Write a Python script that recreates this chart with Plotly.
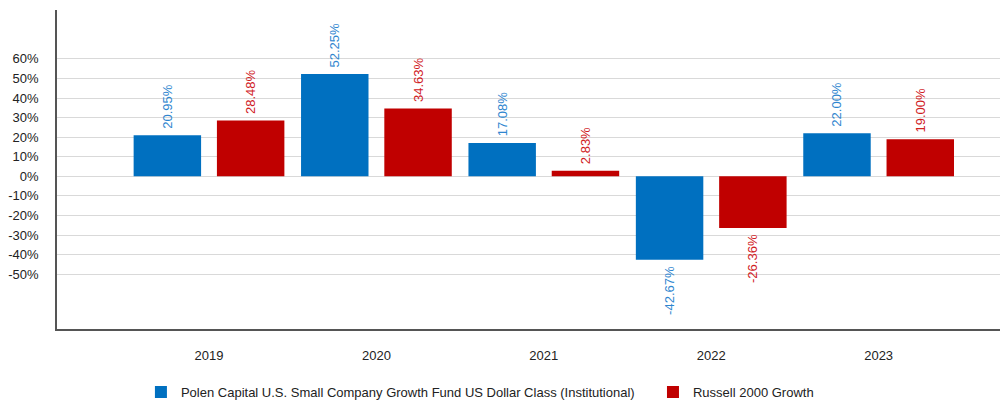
import plotly.graph_objects as go

years = ["2019", "2020", "2021", "2022", "2023"]
polen = [20.95, 52.25, 17.08, -42.67, 22.00]
russell = [28.48, 34.63, 2.83, -26.36, 19.00]
tick_vals = [60, 50, 40, 30, 20, 10, 0, -10, -20, -30, -40, -50]
tick_text = [f"{v}%" for v in tick_vals]

name_a = "Polen Capital U.S. Small Company Growth Fund US Dollar Class (Institutional)"
name_b = "Russell 2000 Growth"

NB = "\u00a0"


def label(v):
    s = f"{v:.2f}%"
    return (NB + s) if v >= 0 else (s + NB)


fig = go.Figure()
fig.add_trace(go.Bar(
    x=years, y=polen, name=name_a, legend="legend",
    marker=dict(color="#0070C0", line=dict(width=0)),
    text=[label(v) for v in polen], textposition="outside", textangle=-90,
    textfont=dict(color="#2F86CF", size=13, family="Liberation Sans, Arial"),
    cliponaxis=False, constraintext="none", hoverinfo="skip",
))
fig.add_trace(go.Bar(
    x=years, y=russell, name=name_b, legend="legend2",
    marker=dict(color="#C00000", line=dict(width=0)),
    text=[label(v) for v in russell], textposition="outside", textangle=-90,
    textfont=dict(color="#D0201E", size=13, family="Liberation Sans, Arial"),
    cliponaxis=False, constraintext="none", hoverinfo="skip",
))

leg_common = dict(orientation="h", xanchor="left", y=-0.198, yanchor="middle",
                  font=dict(size=13, color="#222"), itemwidth=30)

fig.update_layout(
    width=1002, height=400,
    margin=dict(l=57, r=2, t=10, b=71, autoexpand=False),
    paper_bgcolor="white", plot_bgcolor="white",
    barmode="group", bargap=0.005, bargroupgap=0.19,
    font=dict(family="Liberation Sans, Arial", size=13, color="#222"),
    showlegend=True,
    legend=dict(x=0.089, **leg_common),
    legend2=dict(x=0.632, **leg_common),
    xaxis=dict(
        type="category", range=[-0.908, 4.725], automargin=False,
        showline=True, linecolor="#555", linewidth=1.5,
        showgrid=False, ticks="", tickfont=dict(size=13, color="#222"),
        ticklabelstandoff=14,
    ),
    yaxis=dict(
        range=[-78, 85], tickmode="array", tickvals=tick_vals, ticktext=tick_text,
        automargin=False,
        showline=True, linecolor="#555", linewidth=1.5,
        showgrid=True, gridcolor="#D9D9D9", gridwidth=1,
        zeroline=True, zerolinecolor="#D9D9D9", zerolinewidth=1,
        ticks="", tickfont=dict(size=13, color="#222"),
        ticklabelstandoff=14,
    ),
)

fig.write_html("out.html", config={"displayModeBar": False},
               post_script="document.body.style.margin='0';")
